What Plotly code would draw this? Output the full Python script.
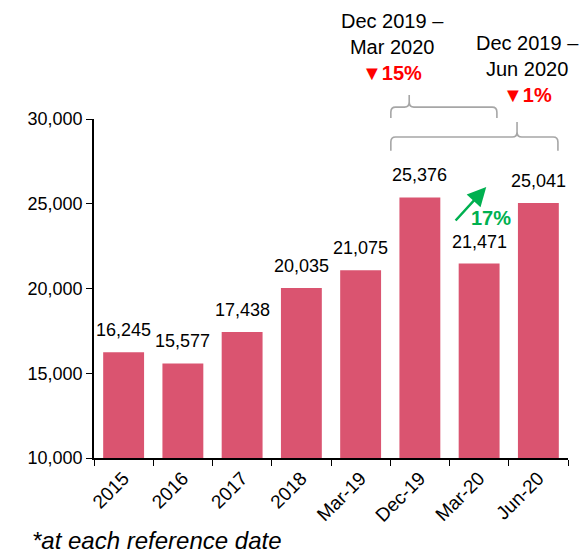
import plotly.graph_objects as go

categories = ["2015", "2016", "2017", "2018", "Mar-19", "Dec-19", "Mar-20", "Jun-20"]
values = [16245, 15577, 17438, 20035, 21075, 25376, 21471, 25041]
y_ticks = [10000, 15000, 20000, 25000, 30000]

BAR_COLOR = "#DA5470"
FONT = "Arial, Liberation Sans, sans-serif"
GRAY = "#A6A6A6"
GREEN = "#00B050"
RED = "#FF0000"

fig = go.Figure()
fig.add_trace(go.Bar(
    x=categories, y=values, marker=dict(color=BAR_COLOR, line=dict(width=0)),
    width=0.69, hoverinfo="skip",
))

annotations = []
for i, v in enumerate(values):
    annotations.append(dict(x=i, y=v, xref="x", yref="y", text=f"{v:,}", showarrow=False,
                            yanchor="middle", yshift=22, font=dict(family=FONT, size=18, color="#000")))


def bracket(x0, x1, xtip, y_end, y_bar, y_tip, rx=0.08, ry=0.015):
    return (f"M {x0},{y_end} L {x0},{y_bar-ry} Q {x0},{y_bar} {x0+rx},{y_bar} "
            f"L {xtip-rx},{y_bar} Q {xtip},{y_bar} {xtip},{y_bar+ry} L {xtip},{y_tip} "
            f"M {xtip},{y_bar+ry} Q {xtip},{y_bar} {xtip+rx},{y_bar} "
            f"L {x1-rx},{y_bar} Q {x1},{y_bar} {x1},{y_bar-ry} L {x1},{y_end}")


shapes = [
    dict(type="path", xref="x", yref="paper", path=bracket(4.51, 6.30, 4.82, 1.003, 1.035, 1.071),
         line=dict(color=GRAY, width=1.6)),
    dict(type="path", xref="x", yref="paper", path=bracket(4.51, 7.33, 6.64, 0.906, 0.947, 0.991),
         line=dict(color=GRAY, width=1.6)),
]

annotations += [
    dict(x=4.53, y=1.251, xref="x", yref="paper", text="Dec 2019 –<br>Mar 2020", showarrow=False,
         font=dict(family=FONT, size=20, color="#000"), yanchor="middle"),
    dict(x=4.53, y=1.136, xref="x", yref="paper", text="<b>▼15%</b>", showarrow=False,
         font=dict(family=FONT, size=20, color=RED), yanchor="middle"),
    dict(x=6.81, y=1.187, xref="x", yref="paper", text="Dec 2019 –<br>Jun 2020", showarrow=False,
         font=dict(family=FONT, size=20, color="#000"), yanchor="middle"),
    dict(x=6.81, y=1.071, xref="x", yref="paper", text="<b>▼1%</b>", showarrow=False,
         font=dict(family=FONT, size=20, color=RED), yanchor="middle"),
    dict(x=6.12, y=25988, xref="x", yref="y", ax=5.58, ay=23923, axref="x", ayref="y", text="",
         showarrow=True, arrowhead=2, arrowsize=1.5, arrowwidth=2.5, arrowcolor=GREEN),
    dict(x=6.2, y=24150, xref="x", yref="y", text="<b>17%</b>", showarrow=False,
         font=dict(family=FONT, size=20, color=GREEN), yanchor="middle"),
    dict(x=-0.135, y=-0.242, xref="paper", yref="paper", text="<i>*at each reference date</i>",
         showarrow=False, xanchor="left", yanchor="middle", font=dict(family=FONT, size=24, color="#000")),
]

fig.update_layout(
    width=582, height=553,
    margin=dict(l=94, r=14, t=119, b=95),
    paper_bgcolor="white", plot_bgcolor="white",
    showlegend=False,
    bargap=0.31,
    shapes=shapes, annotations=annotations,
    font=dict(family=FONT, size=18, color="#000"),
)
fig.update_xaxes(
    type="category", tickson="boundaries",
    range=[-0.5, len(categories) - 0.5],
    showline=True, linecolor="#000", linewidth=1.5, ticks="outside", ticklen=6, tickcolor="#000",
    tickangle=-45, showgrid=False, zeroline=False, tickfont=dict(family=FONT, size=19, color="#000"),
)
fig.update_yaxes(
    range=[10000, 30000], tickvals=y_ticks, tickformat=",",
    showline=True, linecolor="#000", linewidth=1.5, ticks="outside", ticklen=6, tickcolor="#000",
    showgrid=False, zeroline=False, tickfont=dict(family=FONT, size=18, color="#000"),
)

fig.write_html("out.html")
